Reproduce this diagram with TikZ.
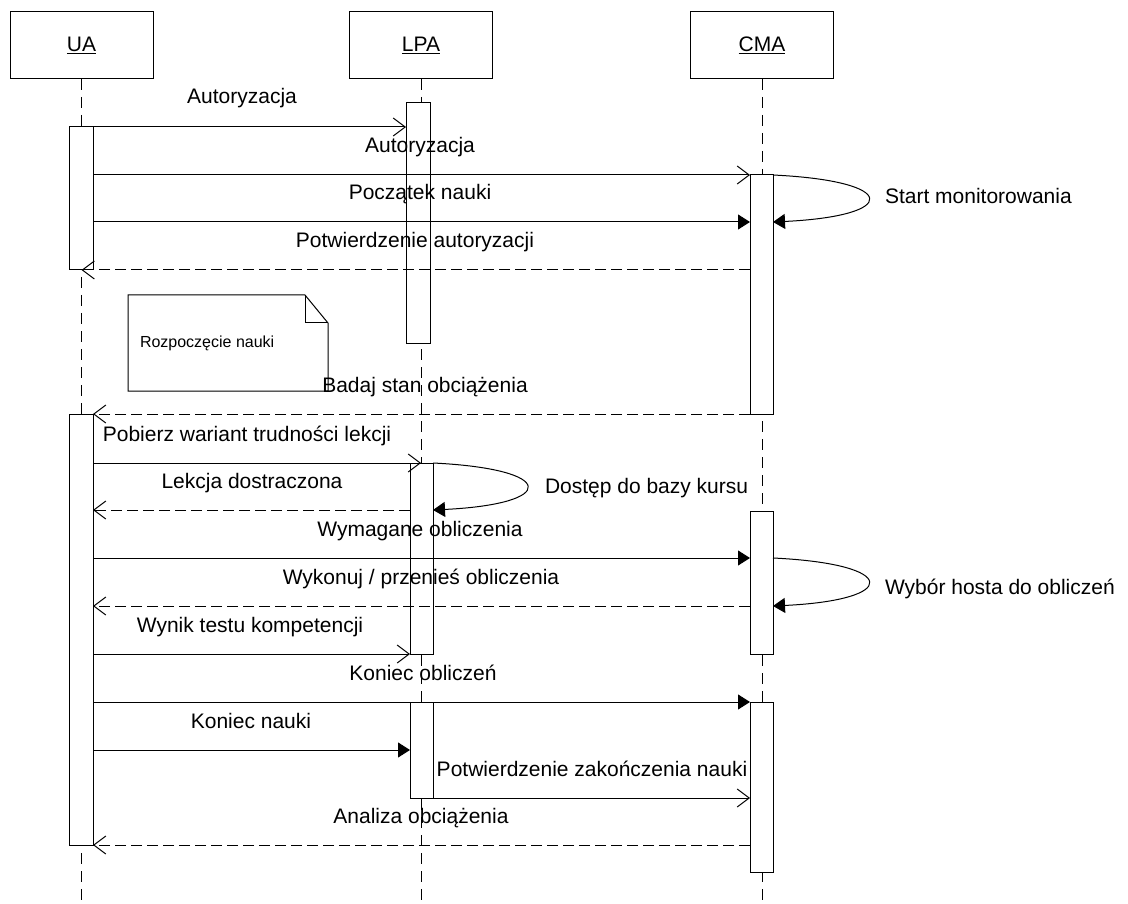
\documentclass[tikz,border=0pt]{standalone}
\usepackage{fontspec}
\setmainfont{Liberation Sans}
\usetikzlibrary{arrows.meta}
\begin{document}
\begin{tikzpicture}[x=1pt,y=-1pt,
  line width=1pt,
  every node/.style={inner sep=0pt,outer sep=0pt},
  head/.style={draw,fill=white,minimum width=143pt,minimum height=67pt,font=\fontsize{21}{25}\selectfont},
  lifeline/.style={dash pattern=on 11pt off 7pt},
  act/.style={draw,fill=white},
  lbl/.style={anchor=base,font=\fontsize{21}{25}\selectfont},
  lbll/.style={anchor=base west,font=\fontsize{21}{25}\selectfont},
  call/.style={-{Triangle[length=12pt,width=15pt]}},
  async/.style={-{Straight Barb[length=12pt,width=18pt]}},
  reply/.style={dash pattern=on 11pt off 5pt,-{Straight Barb[length=12pt,width=18pt]}},
]
\useasboundingbox (0,0) rectangle (1128,904);

% lifelines
\coordinate (uaTop) at (81.5,79);   \coordinate (uaBot) at (81.5,904);
\coordinate (lpaTop) at (421,79);   \coordinate (lpaBot) at (421,904);
\coordinate (cmaTop) at (762,79);   \coordinate (cmaBot) at (762,904);
\draw[lifeline] (uaTop) -- (uaBot);
\draw[lifeline] (lpaTop) -- (lpaBot);
\draw[lifeline] (cmaTop) -- (cmaBot);

% object headers
\node[head] (ua)  at (81.5,45.5) {\underline{UA}};
\node[head] (lpa) at (421,45.5)  {\underline{LPA}};
\node[head] (cma) at (762,45.5)  {\underline{CMA}};

% activation bars
\draw[act] (69,127) rectangle (93,270)   node[pos=.5] (ua1) {};
\draw[act] (69,414) rectangle (93,845)   node[pos=.5] (ua2) {};
\draw[act] (406,103) rectangle (430,343) node[pos=.5] (lpa1) {};
\draw[act] (410,463) rectangle (433,654) node[pos=.5] (lpa2) {};
\draw[act] (410,702) rectangle (433,798) node[pos=.5] (lpa3) {};
\draw[act] (750,175) rectangle (773,414) node[pos=.5] (cma1) {};
\draw[act] (750,511) rectangle (773,654) node[pos=.5] (cma2) {};
\draw[act] (750,702) rectangle (773,872) node[pos=.5] (cma3) {};

% note
\coordinate (nA) at (128,295); \coordinate (nB) at (305,295);
\coordinate (nC) at (328,323); \coordinate (nD) at (328,391);
\coordinate (nE) at (128,391); \coordinate (nF) at (305,323);
\draw[fill=white] (nA) -- (nB) -- (nC) -- (nD) -- (nE) -- cycle;
\draw (nB) -- (nF) -- (nC);
\node[anchor=base west,font=\fontsize{16}{19}\selectfont] (note) at (140,348) {Rozpoczęcie nauki};

% message end points
\coordinate (m1a) at (93,127);  \coordinate (m1b) at (406,127);
\coordinate (m2a) at (93,175);  \coordinate (m2b) at (750,175);
\coordinate (m3a) at (93,222);  \coordinate (m3b) at (750,222);
\coordinate (m4a) at (750,270); \coordinate (m4b) at (81.5,270);
\coordinate (s1a) at (773,175); \coordinate (s1b) at (773,222);
\coordinate (m5a) at (750,414); \coordinate (m5b) at (93,414);
\coordinate (m6a) at (93,463);  \coordinate (m6b) at (421,463);
\coordinate (s2a) at (433,463); \coordinate (s2b) at (433,510);
\coordinate (m7a) at (410,510); \coordinate (m7b) at (93,510);
\coordinate (m8a) at (93,558);  \coordinate (m8b) at (750,558);
\coordinate (s3a) at (773,558); \coordinate (s3b) at (773,606);
\coordinate (m9a) at (750,606); \coordinate (m9b) at (93,606);
\coordinate (m10a) at (93,654); \coordinate (m10b) at (410,654);
\coordinate (m11a) at (93,702); \coordinate (m11b) at (750,702);
\coordinate (m12a) at (93,750); \coordinate (m12b) at (410,750);
\coordinate (m13a) at (410,798); \coordinate (m13b) at (750,798);
\coordinate (m14a) at (750,845); \coordinate (m14b) at (93,845);

% messages
\draw[async] (m1a) -- (m1b);
\draw[async] (m2a) -- (m2b);
\draw[call]  (m3a) -- (m3b);
\draw[reply] (m4a) -- (m4b);
\draw[call]  (s1a) .. controls (900,181) and (900,216) .. (s1b);
\draw[reply] (m5a) -- (m5b);
\draw[async] (m6a) -- (m6b);
\draw[call]  (s2a) .. controls (558,469) and (558,504) .. (s2b);
\draw[reply] (m7a) -- (m7b);
\draw[call]  (m8a) -- (m8b);
\draw[call]  (s3a) .. controls (900,564) and (900,600) .. (s3b);
\draw[reply] (m9a) -- (m9b);
\draw[async] (m10a) -- (m10b);
\draw[call]  (m11a) -- (m11b);
\draw[call]  (m12a) -- (m12b);
\draw[async] (m13a) -- (m13b);
\draw[reply] (m14a) -- (m14b);

% message labels
\node[lbl] (t1)  at (242,104) {Autoryzacja};
\node[lbl] (t2)  at (420,153) {Autoryzacja};
\node[lbl] (t3)  at (420,200) {Początek nauki};
\node[lbl] (t4)  at (415,248) {Potwierdzenie autoryzacji};
\node[lbll] (t5) at (885,204) {Start monitorowania};
\node[lbl] (t6)  at (425,392) {Badaj stan obciążenia};
\node[lbl] (t7)  at (247,441) {Pobierz wariant trudności lekcji};
\node[lbll] (t8) at (545,493) {Dostęp do bazy kursu};
\node[lbl] (t9)  at (252,488) {Lekcja dostraczona};
\node[lbl] (t10) at (420,536) {Wymagane obliczenia};
\node[lbll] (t11) at (885,594) {Wybór hosta do obliczeń};
\node[lbl] (t12) at (421,584) {Wykonuj / przenieś obliczenia};
\node[lbl] (t13) at (250,632) {Wynik testu kompetencji};
\node[lbl] (t14) at (423,680) {Koniec obliczeń};
\node[lbl] (t15) at (251,728) {Koniec nauki};
\node[lbl] (t16) at (592,776) {Potwierdzenie zakończenia nauki};
\node[lbl] (t17) at (421,823) {Analiza obciążenia};
\end{tikzpicture}
\end{document}
